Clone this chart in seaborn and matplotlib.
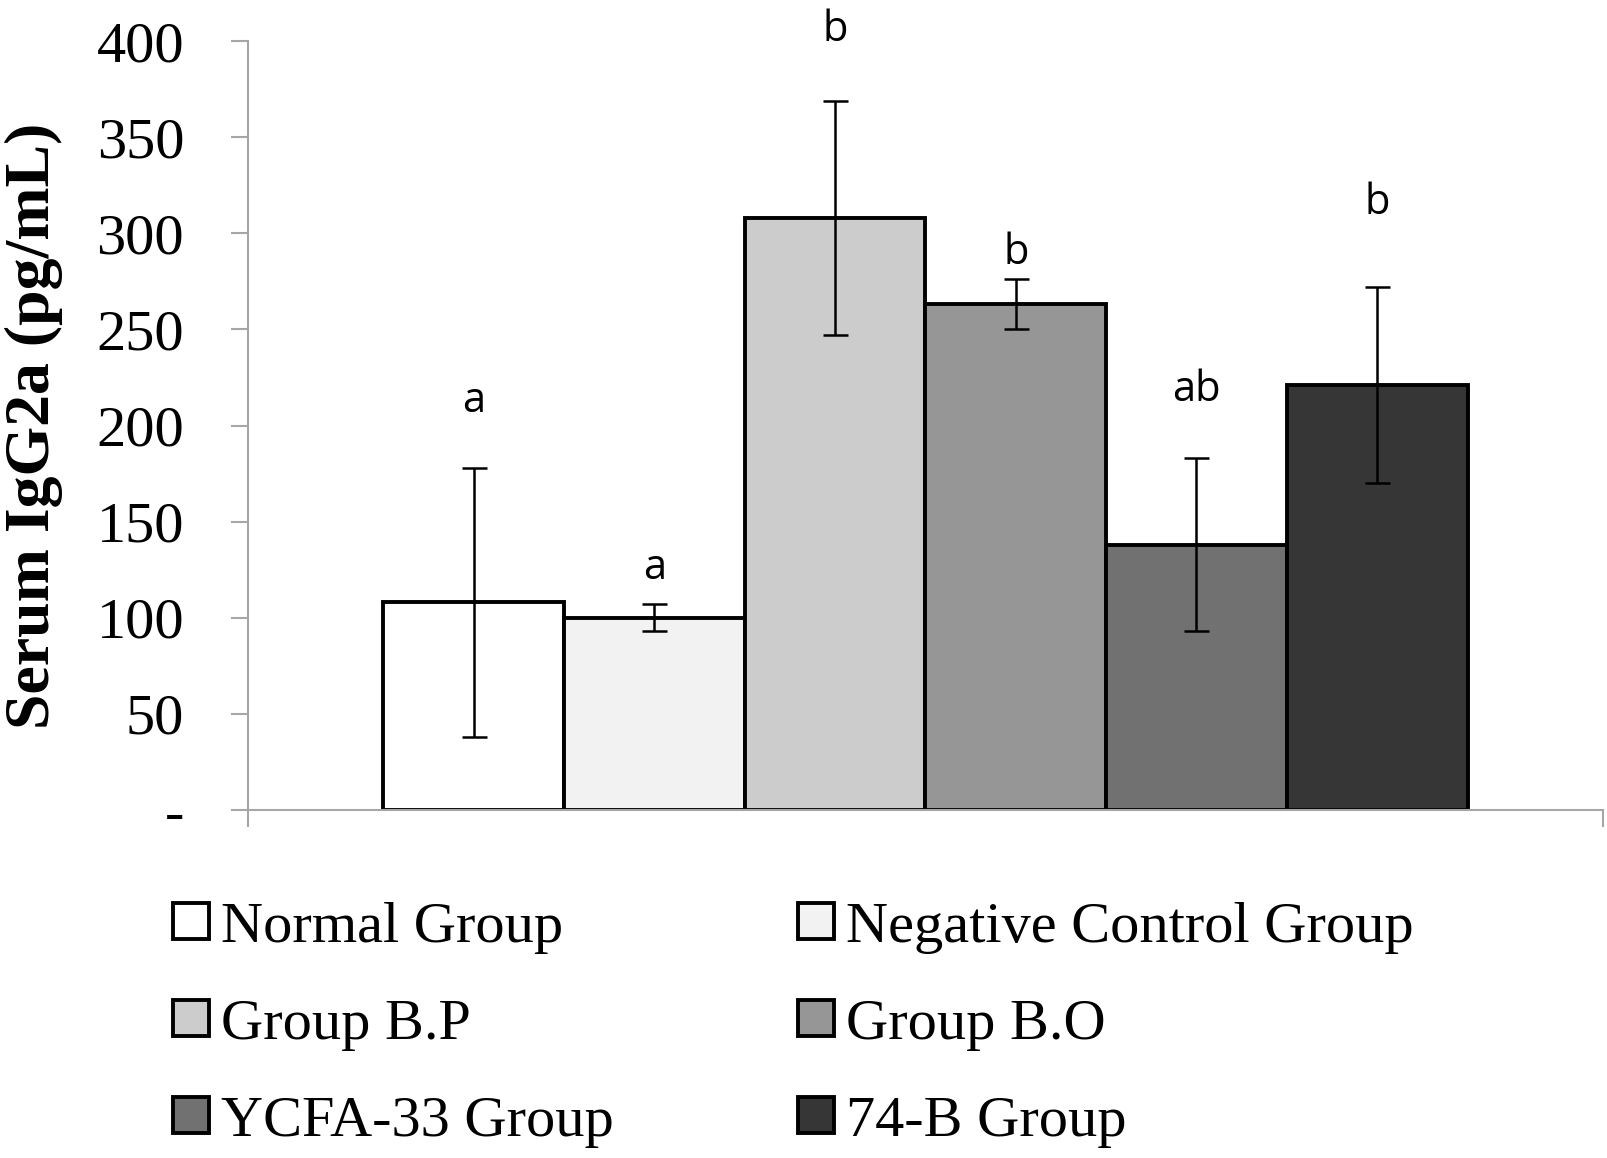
import matplotlib
matplotlib.use("Agg")
import matplotlib.pyplot as plt
from matplotlib.container import BarContainer
import seaborn as sns
import pandas as pd

# ---- data ----
groups = ["Normal Group", "Negative Control Group", "Group B.P",
          "Group B.O", "YCFA-33 Group", "74-B Group"]
means = [108, 100, 308, 263, 138, 221]
errors = [70, 7, 61, 13, 45, 51]
letters = ["a", "a", "b", "b", "ab", "b"]
colors = ["#ffffff", "#f2f2f2", "#cccccc", "#969696", "#717171", "#363636"]
ytick_vals = [0, 50, 100, 150, 200, 250, 300, 350, 400]
ytick_labels = ["-", "50", "100", "150", "200", "250", "300", "350", "400"]

# letter offsets above error-bar tops (data units) – annotation placement
letter_offsets = [29, 13, 31, 8, 30, 38]

sns.set_style("white")
plt.rcParams["font.family"] = ["Liberation Serif", "DejaVu Sans"]
plt.rcParams["text.color"] = "black"
plt.rcParams["axes.labelcolor"] = "black"
plt.rcParams["xtick.labelcolor"] = "black"
plt.rcParams["ytick.labelcolor"] = "black"

fig = plt.figure(figsize=(16.08, 11.58), dpi=100)
ax = fig.add_axes([0.1542, 0.3005, 0.8427, 0.664])

df = pd.DataFrame({"cat": ["IgG2a"] * len(groups), "group": groups, "value": means})
sns.barplot(data=df, x="cat", y="value", hue="group", hue_order=groups,
            palette=colors, saturation=1, width=0.8, edgecolor="black",
            linewidth=2.8, errorbar=None, ax=ax, legend=True)

bar_conts = [c for c in ax.containers if isinstance(c, BarContainer)]
handles = []
for i, cont in enumerate(bar_conts):
    bar = cont.patches[0]
    handles.append(bar)
    xc = bar.get_x() + bar.get_width() / 2
    ax.errorbar(xc, means[i], yerr=errors[i], fmt="none", ecolor="black",
                elinewidth=1.8, capsize=9, capthick=1.8, zorder=5)
    ax.text(xc, means[i] + errors[i] + letter_offsets[i], letters[i],
            ha="center", va="baseline", fontsize=30, family="Open Sans",
            color="black", clip_on=False)

if ax.get_legend() is not None:
    ax.get_legend().remove()

ax.set_xlim(-0.5, 0.5)
ax.set_ylim(0, 400)
ax.set_xticks([-0.5, 0.5])
ax.set_xticklabels(["", ""])
ax.set_xlabel("")
ax.set_yticks(ytick_vals)
ax.set_yticklabels(ytick_labels)

gray = "#a6a6a6"
ax.tick_params(axis="y", direction="out", length=12, width=1.5, color=gray,
               pad=34, labelsize=42, left=True, labelcolor="black")
ax.tick_params(axis="x", direction="out", length=12, width=1.5, color=gray,
               bottom=True)
for lab in ax.get_yticklabels():
    lab.set_family("Liberation Serif")

for s in ["top", "right"]:
    ax.spines[s].set_visible(False)
for s in ["left", "bottom"]:
    ax.spines[s].set_color(gray)
    ax.spines[s].set_linewidth(1.5)

ax.set_ylabel("Serum IgG2a (pg/mL)", fontsize=46, fontweight="bold",
              family="Liberation Serif", color="black")
ax.yaxis.set_label_coords(-0.1365, 0.5)

order = [0, 2, 4, 1, 3, 5]
leg = fig.legend(handles=[handles[i] for i in order],
                 labels=[groups[i] for i in order],
                 ncol=2, loc="upper left",
                 bbox_to_anchor=(173 / 1608, 1 - 902 / 1158),
                 frameon=False, prop={"family": "Liberation Serif", "size": 42},
                 handlelength=0.62, handleheight=0.577, handletextpad=0.2,
                 columnspacing=3.16, labelspacing=0.77, borderpad=0,
                 borderaxespad=0)
for t in leg.get_texts():
    t.set_color("black")

fig.savefig("out.png", dpi=100)
